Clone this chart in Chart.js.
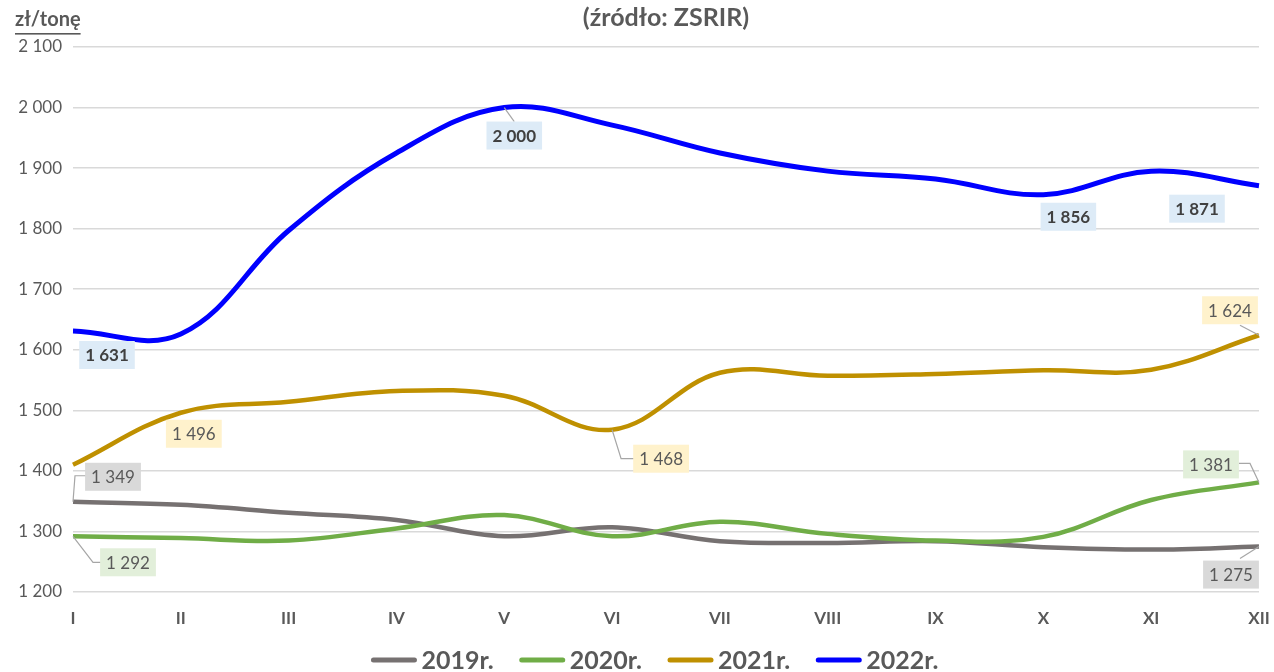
<!DOCTYPE html>
<html><head><meta charset="utf-8">
<script src="https://cdn.jsdelivr.net/npm/chart.js@4.4.1/dist/chart.umd.min.js"></script>
<style>html,body{margin:0;padding:0;background:#fff}#wrap{width:1274px;height:672px;position:relative}</style>
</head><body><div id="wrap"><canvas id="c" width="1274" height="672"></canvas></div>
<script>
const categories = ['I','II','III','IV','V','VI','VII','VIII','IX','X','XI','XII'];
const seriesNames = ['2019r.','2020r.','2021r.','2022r.'];
const y2019 = [1349,1344,1331,1319,1292,1307,1284,1281,1284,1274,1270,1275];
const y2020 = [1292,1289,1285,1305,1327,1292,1316,1296,1285,1291,1352,1381];
const y2021 = [1410,1496,1514,1532,1524,1468,1562,1557,1560,1566,1567,1624];
const y2022 = [1631,1626,1797,1925,2000,1971,1925,1895,1882,1856,1895,1871];
const yMin = 1200, yMax = 2100, yStep = 100;
const titleText = '(źródło: ZSRIR)';
const unitText = 'zł/tonę';
// labelled points per series (point indices)
const labelled2019 = [0, 11];
const labelled2020 = [0, 11];
const labelled2021 = [1, 5, 11];
const labelled2022 = [0, 4, 9, 11];

const FONT = 'Lato, "Open Sans", sans-serif';
const colors = ['#767171', '#70ad47', '#bf9000', '#0000ff'];
const boxColors = ['#d9d9d9', '#e2efda', '#fff2cc', '#ddebf7'];
const fmt = v => String(Math.round(v)).replace(/\B(?=(\d{3})+(?!\d))/g, ' ');

// label placement styles: [dx, dy, leader points]
const labelStyle = {
  '0-0':  {dx: 40, dy: -25, leader: [[0,0],[2,-26],[13,-26]]},
  '0-11': {dx: -28, dy: 28, leader: [[0,0],[-19,12]]},
  '1-0':  {dx: 55, dy: 26, leader: [[0,0],[20,26],[28,26]]},
  '1-11': {dx: -48, dy: -18, leader: [[0,0],[-9,-19],[-20,-19]]},
  '2-1':  {dx: 13, dy: 21},
  '2-5':  {dx: 49, dy: 29, leader: [[0,0],[9,29],[22,29]]},
  '2-11': {dx: -29, dy: -25, leader: [[0,0],[-19,-10]]},
  '3-0':  {dx: 34, dy: 24},
  '3-4':  {dx: 10, dy: 28, leader: [[0,0],[10,14]]},
  '3-9':  {dx: 25, dy: 22},
  '3-11': {dx: -62, dy: 23}
};
const labelSets = [labelled2019, labelled2020, labelled2021, labelled2022];

const annot = {
  id: 'annot',
  afterDatasetsDraw(chart) {
    const ctx = chart.ctx;
    ctx.save();
    labelSets.forEach((set, ds) => {
      const meta = chart.getDatasetMeta(ds);
      set.forEach(i => {
        const st = labelStyle[ds + '-' + i];
        const p = meta.data[i];
        const val = chart.data.datasets[ds].data[i];
        if (st.leader) {
          ctx.strokeStyle = '#a6a6a6'; ctx.lineWidth = 1.2;
          ctx.beginPath();
          st.leader.forEach((q, k) => { const fn = k ? 'lineTo' : 'moveTo'; ctx[fn](p.x + q[0], p.y + q[1]); });
          ctx.stroke();
        }
        const bold = ds === 3;
        ctx.font = (bold ? 'bold ' : '') + '17px ' + FONT;
        const txt = fmt(val);
        const w = ctx.measureText(txt).width + 12, h = 28;
        const cx = p.x + st.dx, cy = p.y + st.dy;
        ctx.fillStyle = boxColors[ds];
        ctx.fillRect(cx - w/2, cy - h/2, w, h);
        ctx.fillStyle = bold ? '#404040' : '#595959';
        ctx.textAlign = 'center'; ctx.textBaseline = 'middle';
        ctx.fillText(txt, cx, cy + 1);
      });
    });
    ctx.restore();
  },
  afterDraw(chart) {
    const ctx = chart.ctx;
    ctx.save();
    ctx.fillStyle = '#595959';
    ctx.textBaseline = 'middle';
    ctx.textAlign = 'center';
    ctx.font = 'bold 25px ' + FONT;
    ctx.fillText(titleText, 666, 18);
    ctx.textAlign = 'left';
    ctx.font = 'bold 20px ' + FONT;
    ctx.fillText(unitText, 15, 20);
    const w = ctx.measureText(unitText).width;
    ctx.fillRect(15, 33, w, 1.6);
    // legend
    ctx.font = 'bold 25px ' + FONT;
    const sw = 45, gapT = 5, gapI = 26;
    const items = chart.data.datasets.map((d, k) => ({ t: d.label, c: d.borderColor, w: ctx.measureText(d.label).width }));
    const total = items.reduce((a, it) => a + sw + gapT + it.w, 0) + gapI * (items.length - 1);
    let x = 655 - total / 2;
    const y = 660;
    items.forEach(it => {
      ctx.strokeStyle = it.c; ctx.lineWidth = 5; ctx.lineCap = 'round';
      ctx.beginPath(); ctx.moveTo(x + 2, y); ctx.lineTo(x + sw - 2, y); ctx.stroke();
      ctx.fillStyle = '#595959';
      ctx.fillText(it.t, x + sw + gapT, y + 1);
      x += sw + gapT + it.w + gapI;
    });
    ctx.restore();
  }
};

new Chart(document.getElementById('c'), {
  type: 'line',
  data: {
    labels: categories,
    datasets: [y2019, y2020, y2021, y2022].map((d, k) => ({
      label: seriesNames[k],
      data: d,
      borderColor: colors[k],
      backgroundColor: colors[k],
      borderWidth: k === 3 ? 5 : 4.5,
      tension: 0.38,
      pointRadius: 0,
      fill: false,
      order: 4 - k
    }))
  },
  options: {
    responsive: false,
    animation: false,
    layout: { padding: { left: 0, right: 15, top: 47, bottom: 0 } },
    plugins: {
      tooltip: { enabled: false },
      title: { display: false },
      legend: { display: false }
    },
    scales: {
      x: {
        offset: false,
        grid: { display: false, drawTicks: false },
        border: { display: false },
        ticks: { color: '#595959', padding: 16, font: { family: FONT, size: 17, weight: 'bold' }, maxRotation: 0, autoSkip: false },
        afterFit(s) { s.height = 80; s.paddingLeft = 0; s.paddingRight = 0; }
      },
      y: {
        min: yMin, max: yMax,
        grid: { color: '#d9d9d9', lineWidth: 1.5, drawTicks: false },
        border: { display: false },
        ticks: { stepSize: yStep, color: '#595959', padding: 11, font: { family: FONT, size: 17 }, callback: v => fmt(v) },
        afterFit(s) { s.width = 73; s.paddingTop = 0; s.paddingBottom = 0; }
      }
    }
  },
  plugins: [annot]
});
</script></body></html>
